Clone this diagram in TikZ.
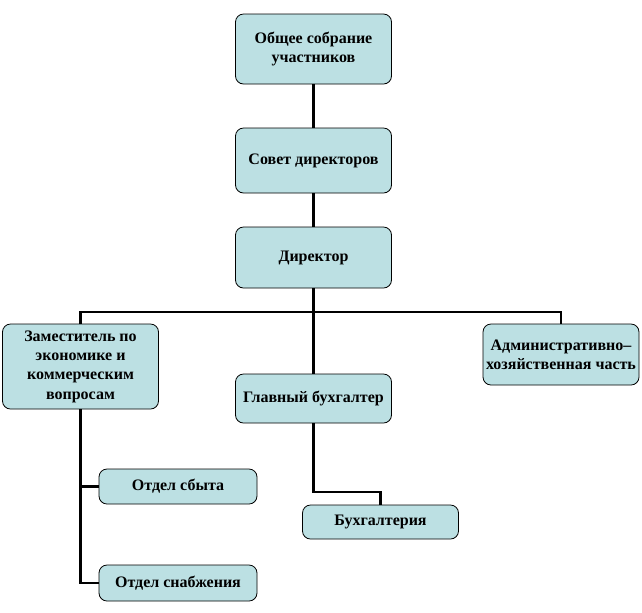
\documentclass[tikz,border=0pt]{standalone}
\usepackage{fontspec}
\setmainfont{Liberation Serif}
\definecolor{boxblue}{RGB}{188,224,227}
\tikzset{
  unitbox/.style={draw=black, line width=0.6pt, fill=boxblue, rounded corners=6pt,
    minimum width=117pt, align=center, inner sep=2pt,
    font=\fontsize{12pt}{14.5pt}\selectfont\bfseries},
  link/.style={line width=1.6pt, black}
}
\begin{document}
\begin{tikzpicture}[x=0.75pt,y=-0.75pt]
    \useasboundingbox (0,0) rectangle (642,612);
    \node[unitbox, minimum height=52.5pt](sobranie)at(313.5,49){Общее собрание\\участников};
    \node[unitbox, minimum height=48.75pt](sovet)at(313.5,160.5){Совет директоров};
    \node[unitbox, minimum height=45.75pt](direktor)at(313.5,257.5){Директор};
    \node[unitbox, minimum height=63.75pt](zam)at(80.5,366.5){Заместитель по\\экономике и\\коммерческим\\вопросам};
    \node[unitbox, minimum height=36.75pt](glavbuh)at(313.5,398.5){Главный бухгалтер};
    \node[unitbox, minimum height=45.75pt](ahch)at(561,354.5){Административно–\\хозяйственная часть};
    \node[unitbox, minimum width=118.5pt, minimum height=26.25pt](sbyt)at(178,486.5){Отдел сбыта};
    \node[unitbox, minimum width=118.5pt, minimum height=27pt](snab)at(178,583){Отдел снабжения};
    \node[unitbox, minimum height=25.5pt](buh)at(380.5,522){Бухгалтерия};
    \coordinate(bar)at(313.5,312);
    \coordinate(buhjoint)at(313.5,492);
    \draw[link](sobranie)--(sovet);
    \draw[link](sovet)--(direktor);
    \draw[link](direktor.south)--(glavbuh.north);
    \draw[link](zam.north)|-(bar)-|(ahch.north);
    \draw[link](glavbuh.south)--(buhjoint)-|(buh.north);
    \draw[link](zam.south)|-(sbyt.west);
    \draw[link](zam.south)|-(snab.west);
\end{tikzpicture}
\end{document}
